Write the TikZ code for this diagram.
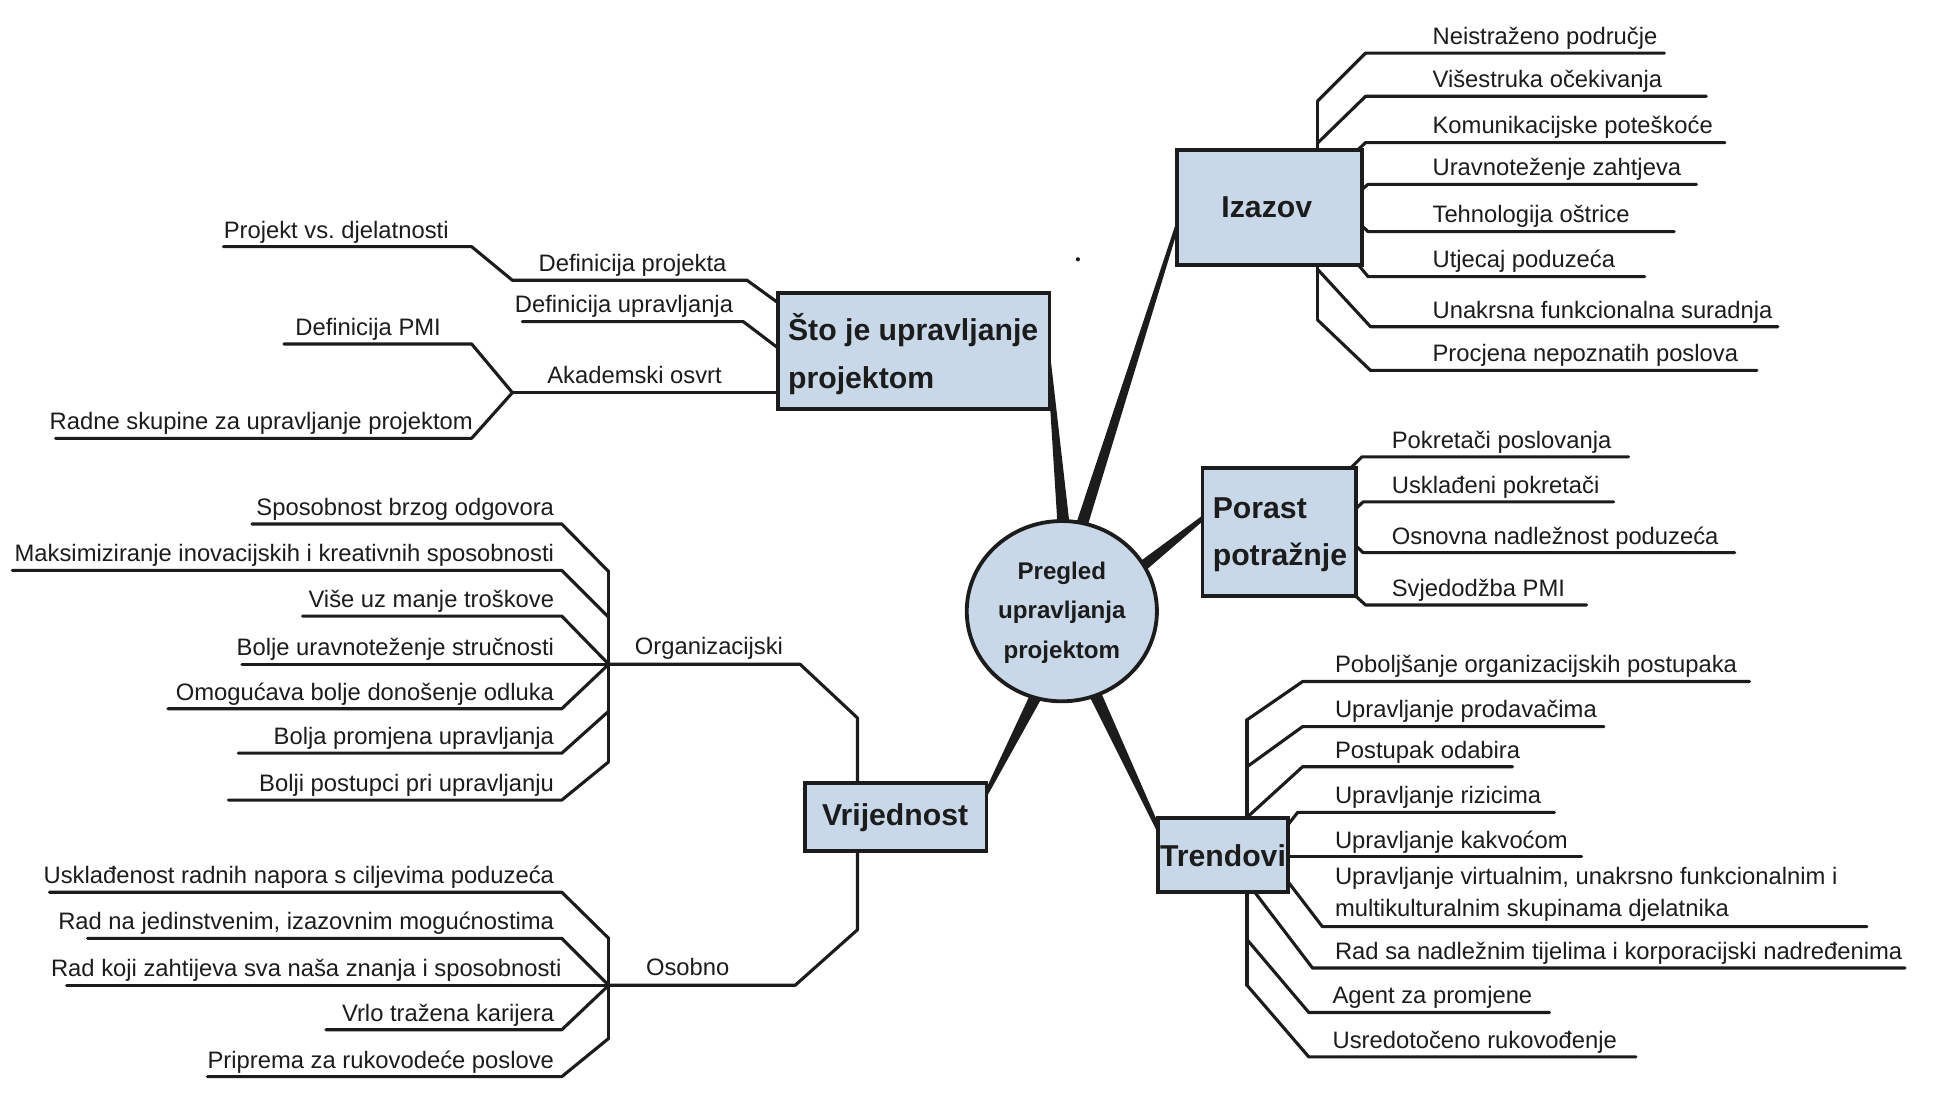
\documentclass[tikz,border=0pt]{standalone}
\usepackage{fontspec}
\setmainfont{Liberation Sans}
\usetikzlibrary{calc,shapes.geometric}
\definecolor{ink}{RGB}{28,28,28}
\definecolor{boxfill}{RGB}{200,216,232}
\newcommand\uu{0.71132pt}
\frenchspacing
\tikzset{
 uline/.style={draw=ink, line width=1.8pt, line join=round, line cap=round},
 lbl/.style={inner sep=0pt, font=\fontsize{13.7}{16}\selectfont, text=ink},
 boxst/.style={draw=ink, fill=boxfill, line width=2.2pt, inner sep=0pt},
 btxt/.style={inner sep=0pt, font=\bfseries\fontsize{17.4}{27.5}\selectfont, text=ink, align=left},
 ctxt/.style={inner sep=0pt, font=\bfseries\fontsize{13.9}{22.8}\selectfont, text=ink, align=center},
}
% tapered spoke: narrow end #1, wide end #2, half widths #3, #4
\newcommand\spoke[4]{\fill[ink] ($(#1)!#3!90:(#2)$) -- ($(#1)!#3!-90:(#2)$) -- ($(#2)!#4!90:(#1)$) -- ($(#2)!#4!-90:(#1)$) -- cycle;}
% right item: name, from, x0, x1, y, textx, text
\newcommand\Ritem[7]{\coordinate (#1a) at (#3,#5); \coordinate (#1b) at (#4,#5);
 \draw[uline] (#2) -- (#1a) -- (#1b);
 \node[lbl, anchor=base west] (#1) at (#6,#5-7) {#7};}
% left item: name, from, x0 (near), x1 (far), y, textx (right edge), text
\newcommand\Litem[7]{\coordinate (#1a) at (#3,#5); \coordinate (#1b) at (#4,#5);
 \draw[uline] (#2) -- (#1a) -- (#1b);
 \node[lbl, anchor=base east] (#1) at (#6,#5-7) {#7};}
\begin{document}
\begin{tikzpicture}[x=0.025cm, y=-0.025cm]
\fill[white] (0,0) rectangle (1568,885);
\useasboundingbox (0,0) rectangle (1568,885);

% ---------- spokes ----------
\coordinate (spS1) at (849,285);  \coordinate (spS2) at (862,432);
\coordinate (spI1) at (958,168);  \coordinate (spI2) at (874,432);
\coordinate (spP1) at (980,415);  \coordinate (spP2) at (916,466);
\coordinate (spT1) at (944,684);  \coordinate (spT2) at (885,558);
\coordinate (spV1) at (795,650);  \coordinate (spV2) at (842,558);
\spoke{spS1}{spS2}{0.9pt}{3.6pt}
\spoke{spI1}{spI2}{0.9pt}{3.4pt}
\spoke{spP1}{spP2}{1.1pt}{3.4pt}
\spoke{spT1}{spT2}{1pt}{3.6pt}
\spoke{spV1}{spV2}{1pt}{3.6pt}

% ---------- Sto je upravljanje projektom ----------
\coordinate (stA1) at (181,199.8); \coordinate (stA2) at (382,199.8);
\coordinate (stB1) at (415,227);   \coordinate (stB2) at (605,227);
\coordinate (stB3) at (634,248);
\draw[uline] (stA1) -- (stA2) -- (stB1) -- (stB2) -- (stB3);
\node[lbl, anchor=base west] (st1) at (181,192.8) {Projekt vs. djelatnosti};
\node[lbl, anchor=base west] (st2) at (436,220) {Definicija projekta};
\coordinate (stC1) at (423,260.5); \coordinate (stC2) at (602,260.5); \coordinate (stC3) at (634,284.8);
\draw[uline] (stC1) -- (stC2) -- (stC3);
\node[lbl, anchor=base east] (st3) at (594,253.5) {Definicija upravljanja};
\coordinate (stJ) at (415,318);
\coordinate (stD1) at (230,278.6); \coordinate (stD2) at (382,278.6);
\draw[uline] (stD1) -- (stD2) -- (stJ);
\node[lbl, anchor=base west] (st4) at (239,271.6) {Definicija PMI};
\coordinate (stE) at (634,318);
\draw[uline] (stJ) -- (stE);
\node[lbl, anchor=base west] (st5) at (443,311) {Akademski osvrt};
\coordinate (stF1) at (45,355); \coordinate (stF2) at (382,355);
\draw[uline] (stF1) -- (stF2) -- (stJ);
\node[lbl, anchor=base west] (st6) at (40,348) {Radne skupine za upravljanje projektom};

% ---------- Izazov ----------
\coordinate (izTop) at (1067,82); \coordinate (izTopB) at (1067,124);
\draw[uline] (izTop) -- (izTopB);
\Ritem{iz1}{izTop}{1106}{1348}{43}{1160}{Neistraženo područje}
\Ritem{iz2}{1067,116}{1106}{1382}{78}{1160}{Višestruka očekivanja}
\Ritem{iz3}{1097,124}{1106}{1397}{115.5}{1160}{Komunikacijske poteškoće}
\Ritem{iz4}{1100,156}{1108}{1374}{149.3}{1160}{Uravnoteženje zahtjeva}
\Ritem{iz5}{1100,180}{1108}{1356}{187.6}{1160}{Tehnologija oštrice}
\Ritem{iz6}{1098,212}{1108}{1332}{224}{1160}{Utjecaj poduzeća}
\coordinate (izBot) at (1067,212); \coordinate (izBotE) at (1067,259);
\draw[uline] (izBot) -- (izBotE);
\Ritem{iz7}{1067,218}{1110}{1440}{264.6}{1160}{Unakrsna funkcionalna suradnja}
\Ritem{iz8}{izBotE}{1110}{1423}{300}{1160}{Procjena nepoznatih poslova}

% ---------- Porast potraznje ----------
\Ritem{po1}{1092,381}{1103}{1319}{370}{1127}{Pokretači poslovanja}
\Ritem{po2}{1096,414}{1104}{1307}{406.5}{1127}{Usklađeni pokretači}
\Ritem{po3}{1096,440}{1104}{1405}{447.6}{1127}{Osnovna nadležnost poduzeća}
\Ritem{po4}{1096,481}{1106}{1285}{490}{1127}{Svjedodžba PMI}

% ---------- Trendovi ----------
\coordinate (trTop) at (1010,583); \coordinate (trTopB) at (1010,664);
\coordinate (trBot) at (1010,721); \coordinate (trBotE) at (1010,798);
\draw[uline] (trTop) -- (trTopB);
\draw[uline] (trBot) -- (trBotE);
\Ritem{tr1}{trTop}{1055}{1417}{552}{1081}{Poboljšanje organizacijskih postupaka}
\Ritem{tr2}{1010,621}{1055}{1299}{588.5}{1081}{Upravljanje prodavačima}
\Ritem{tr3}{1010,662}{1055}{1225}{621}{1081}{Postupak odabira}
\Ritem{tr4}{1040,672}{1051}{1259}{658}{1081}{Upravljanje rizicima}
\Ritem{tr5}{1040,694}{1045}{1281}{694}{1081}{Upravljanje kakvoćom}
\coordinate (tr6a) at (1071,750.5); \coordinate (tr6b) at (1512,750.5);
\draw[uline] (1040,710) -- (tr6a) -- (tr6b);
\node[lbl, anchor=south west, align=left, font=\fontsize{13.7}{18.5}\selectfont] (tr6) at (1081,746.5) {Upravljanje virtualnim, unakrsno funkcionalnim i\\multikulturalnim skupinama djelatnika};
\Ritem{tr7}{1015,721}{1063}{1543}{784}{1081}{Rad sa nadležnim tijelima i korporacijski nadređenima}
\Ritem{tr8}{1010,761}{1060}{1255}{820}{1079}{Agent za promjene}
\Ritem{tr9}{trBotE}{1060}{1325}{856}{1079}{Usredotočeno rukovođenje}

% ---------- Vrijednost: Organizacijski ----------
\coordinate (vrTop) at (694.5,636); \coordinate (vrA) at (694.5,581.5);
\coordinate (vrB) at (648,538); \coordinate (J1) at (493,538);
\draw[uline] (vrTop) -- (vrA) -- (vrB) -- (J1);
\node[lbl, anchor=base west] (org) at (514,530) {Organizacijski};
\coordinate (J1t) at (493,463); \coordinate (J1b) at (493,617);
\draw[uline] (J1t) -- (J1b);
\Litem{or1}{J1t}{455}{204}{424.4}{449}{Sposobnost brzog odgovora}
\Litem{or2}{493,500}{455}{10}{462}{449}{Maksimiziranje inovacijskih i kreativnih sposobnosti}
\Litem{or3}{J1}{455}{245}{499}{449}{Više uz manje troškove}
\Litem{or4}{J1}{455}{196}{538}{449}{Bolje uravnoteženje stručnosti}
\Litem{or5}{J1}{455}{136}{574}{449}{Omogućava bolje donošenje odluka}
\Litem{or6}{493,576}{455}{193}{610}{449}{Bolja promjena upravljanja}
\Litem{or7}{J1b}{455}{185}{648}{449}{Bolji postupci pri upravljanju}

% ---------- Vrijednost: Osobno ----------
\coordinate (vrBot) at (694.5,687); \coordinate (vrC) at (694.5,753);
\coordinate (vrD) at (644,798); \coordinate (J2) at (493,798);
\draw[uline] (vrBot) -- (vrC) -- (vrD) -- (J2);
\node[lbl, anchor=base west] (osb) at (523,790) {Osobno};
\coordinate (J2t) at (493,760); \coordinate (J2b) at (493,841);
\draw[uline] (J2t) -- (J2b);
\Litem{os1}{J2t}{455}{40}{722.6}{449}{Usklađenost radnih napora s ciljevima poduzeća}
\Litem{os2}{J2}{455}{71}{760}{449}{Rad na jedinstvenim, izazovnim mogućnostima}
\Litem{os3}{J2}{455}{54}{798}{455}{Rad koji zahtijeva sva naša znanja i sposobnosti}
\Litem{os4}{J2}{455}{264}{834}{449}{Vrlo tražena karijera}
\Litem{os5}{J2b}{455}{168}{872}{449}{Priprema za rukovodeće poslove}

% ---------- boxes ----------
\node[boxst, ellipse, minimum width=154*\uu, minimum height=146*\uu] (ctr) at (860,495) {};
\node[ctxt] (ctrT) at (860,496) {Pregled\\upravljanja\\projektom};
\node[boxst, minimum width=220*\uu, minimum height=94*\uu] (sto) at (740,284) {};
\node[btxt, anchor=west] (stoT) at (638,287) {Što je upravljanje\\projektom};
\node[boxst, minimum width=150*\uu, minimum height=93*\uu] (izazov) at (1028,168) {};
\node[btxt] (izazovT) at (1026,168) {Izazov};
\node[boxst, minimum width=124*\uu, minimum height=104*\uu] (porast) at (1036,431) {};
\node[btxt, anchor=west] (porastT) at (982,433) {Porast\\potražnje};
\node[boxst, minimum width=105*\uu, minimum height=60*\uu] (trend) at (990.5,692.5) {};
\node[btxt] (trendT) at (990.5,693) {Trendovi};
\node[boxst, minimum width=147*\uu, minimum height=55*\uu] (vrij) at (725.5,661.5) {};
\node[btxt] (vrijT) at (725,662) {Vrijednost};

% small speck
\fill[ink] (873,210) circle (1.2pt);
\end{tikzpicture}
\end{document}
